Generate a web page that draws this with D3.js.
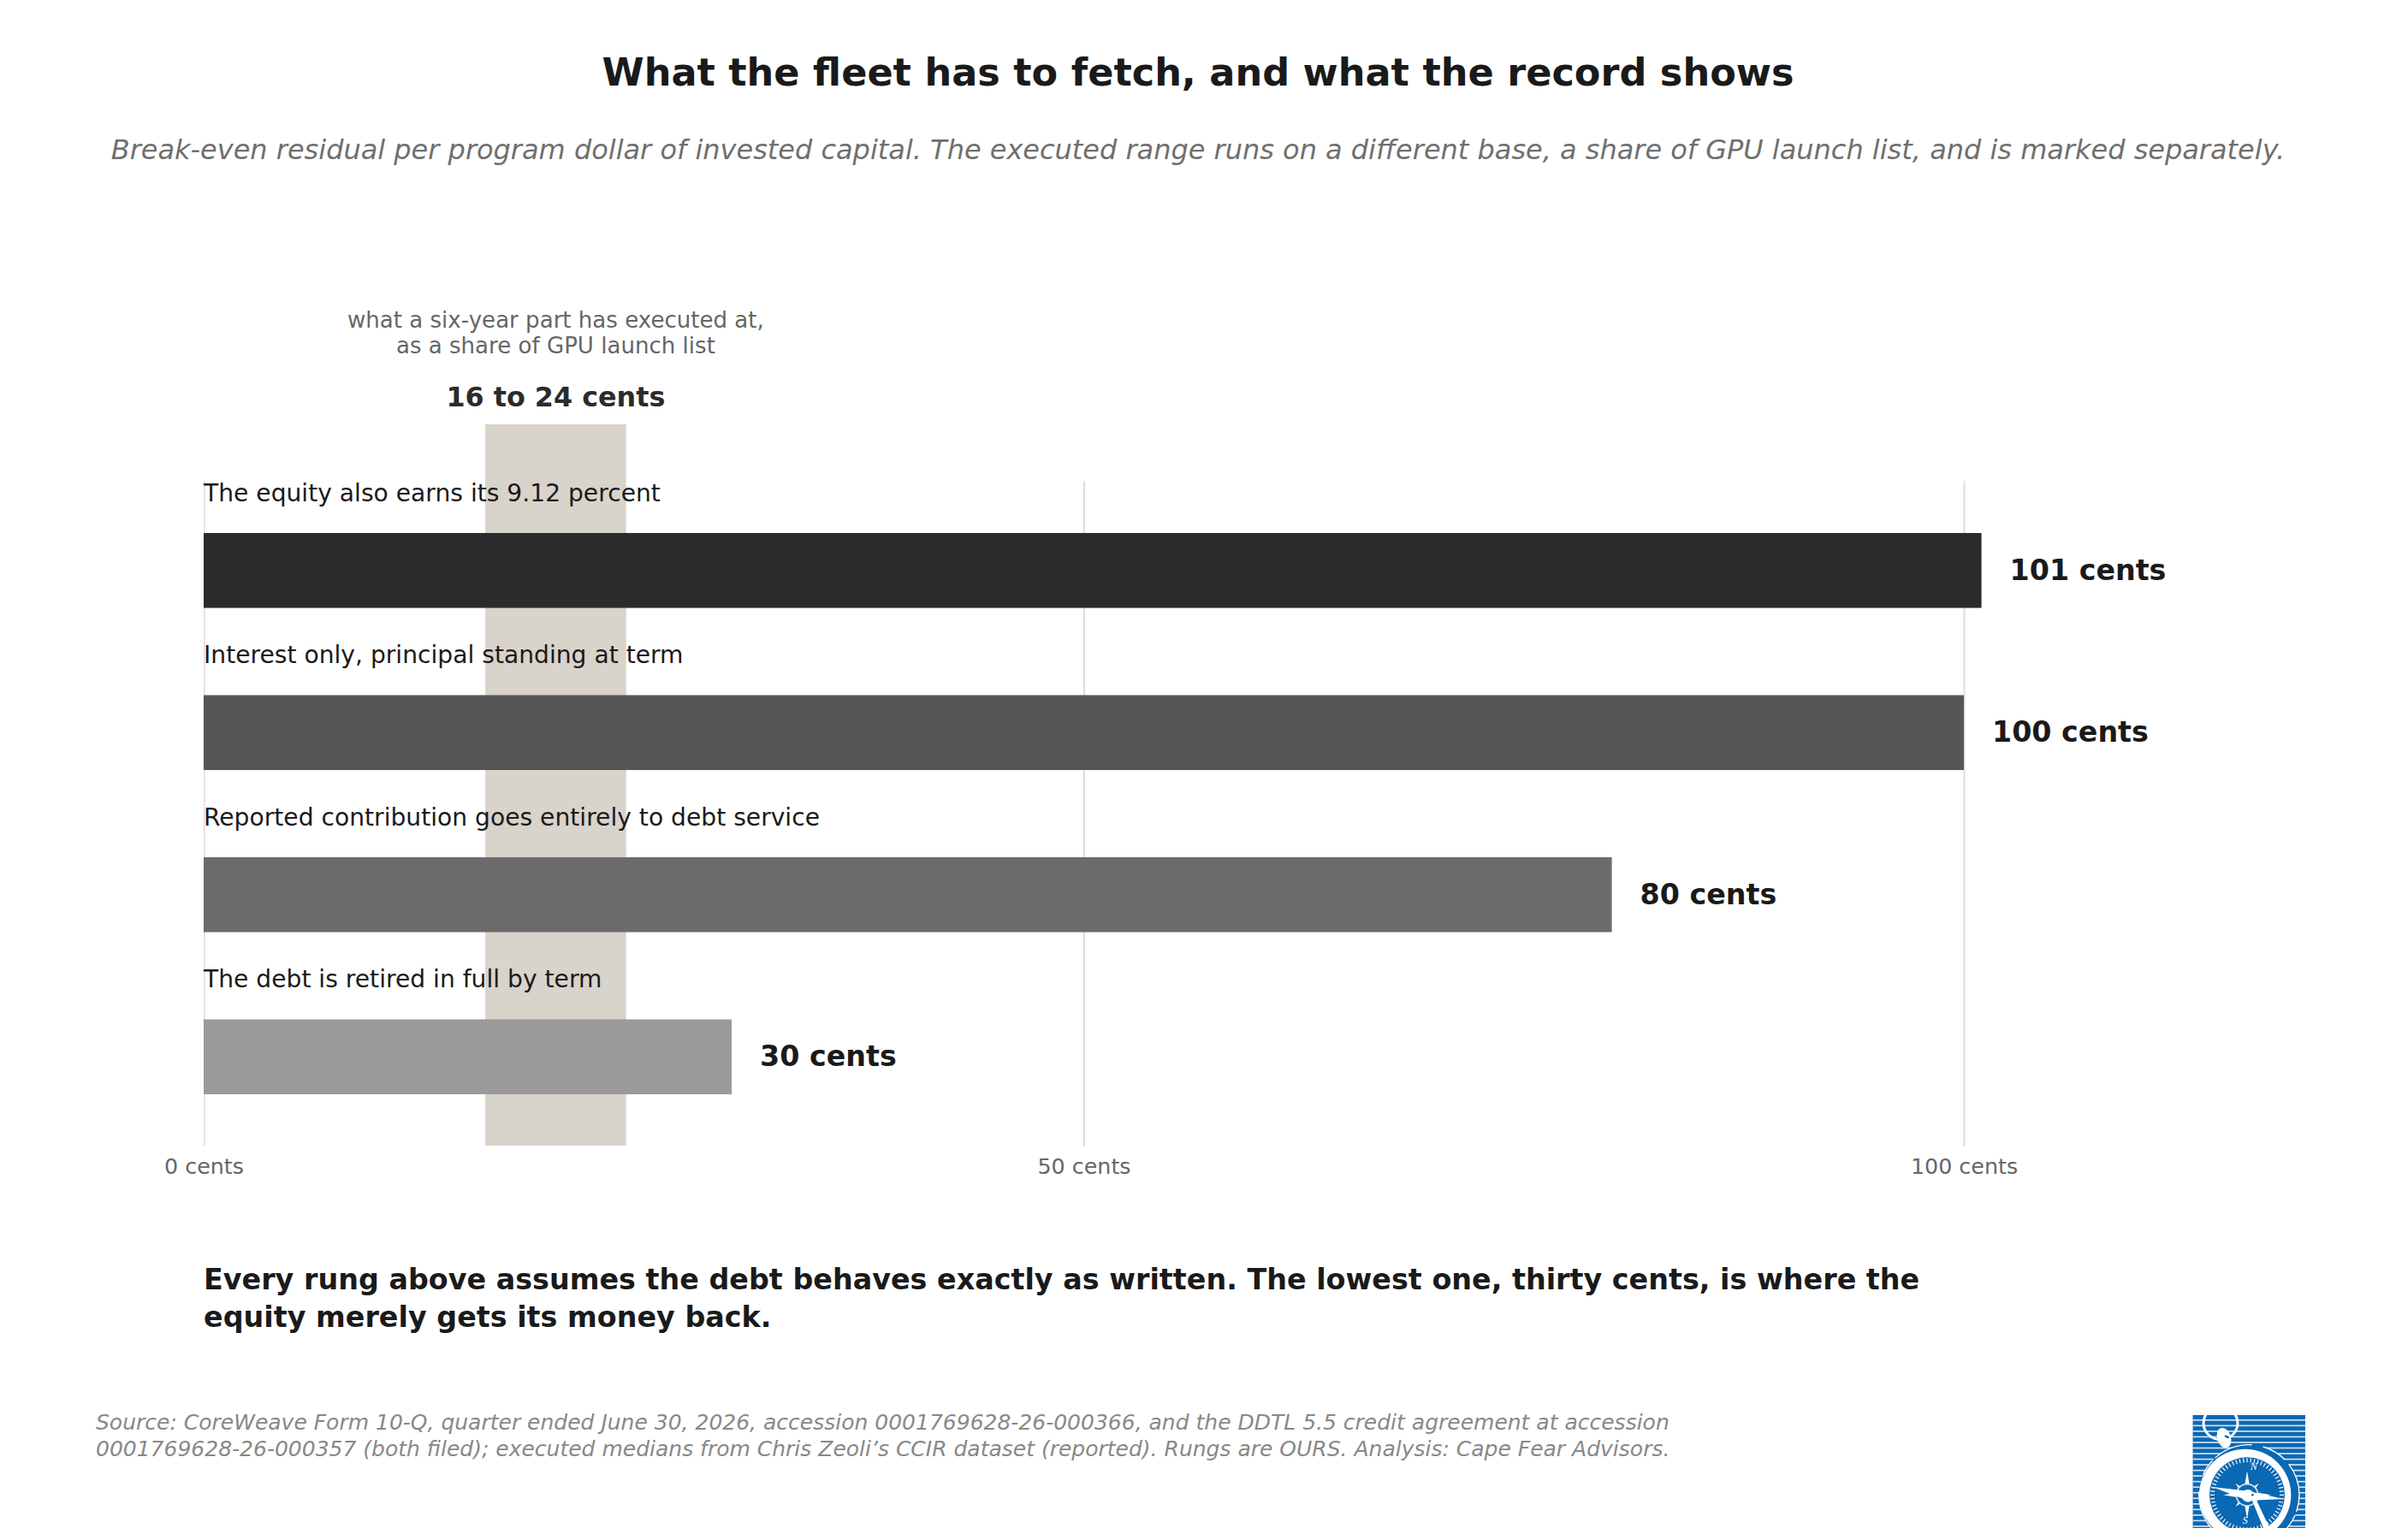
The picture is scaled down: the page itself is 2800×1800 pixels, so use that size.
<!DOCTYPE html>
<html>
<head>
<meta charset="utf-8">
<script src="https://cdn.jsdelivr.net/npm/d3@7"></script>
<style>
  body { margin: 0; background: #fff; }
  svg { opacity: 0.999; }
  text { font-family: "DejaVu Sans", sans-serif; }
</style>
</head>
<body>
<svg id="chart" width="2800" height="1800"></svg>
<script>
const rungs = [
  'The equity also earns its 9.12 percent',
  'Interest only, principal standing at term',
  'Reported contribution goes entirely to debt service',
  'The debt is retired in full by term',
];
const cents = [101, 100, 80, 30];
const barColors = ['#2b2b2b', '#555555', '#6b6b6b', '#9a9a9a'];
const executedRange = [16, 24];
const tickValues = [0, 50, 100];

const title = 'What the fleet has to fetch, and what the record shows';
const subtitle = 'Break-even residual per program dollar of invested capital. The executed range runs on a different base, a share of GPU launch list, and is marked separately.';
const rangeNote = ['what a six-year part has executed at,', 'as a share of GPU launch list'];
const rangeLabel = '16 to 24 cents';
const takeaway = [
  'Every rung above assumes the debt behaves exactly as written. The lowest one, thirty cents, is where the',
  'equity merely gets its money back.',
];
const source = [
  'Source: CoreWeave Form 10-Q, quarter ended June 30, 2026, accession 0001769628-26-000366, and the DDTL 5.5 credit agreement at accession',
  '0001769628-26-000357 (both filed); executed medians from Chris Zeoli\u2019s CCIR dataset (reported). Rungs are OURS. Analysis: Cape Fear Advisors.',
];

const svg = d3.select('#chart');
const xScale = d3.scaleLinear().domain([0, 100]).range([238, 2295]);
const yScale = d3.scaleBand().domain(rungs).range([623, 1279]).paddingInner(0.538);
const plotTop = 562;
const plotBottom = 1340;

const addText = (parent, str, x, y, size, color, opts = {}) =>
  parent
    .append('text')
    .attr('x', x)
    .attr('y', y)
    .attr('text-anchor', opts.anchor || 'start')
    .attr('fill', color)
    .style('font-size', `${size}px`)
    .style('font-weight', opts.weight || 'normal')
    .style('font-style', opts.style || 'normal')
    .text(str);

addText(svg, title, 1400, 100, 44.58, '#1a1a1a', { anchor: 'middle', weight: 'bold' });
addText(svg, subtitle, 1400, 186, 31.97, '#6f6f6f', { anchor: 'middle', style: 'italic' });

// grid, clipped on the left so the zero line comes out thin like the axes edge
svg.append('clipPath').attr('id', 'plotClip')
  .append('rect').attr('x', 238).attr('y', plotTop).attr('width', 2200).attr('height', plotBottom - plotTop);

svg.append('g')
  .attr('clip-path', 'url(#plotClip)')
  .append('g')
  .attr('transform', `translate(0, ${plotBottom})`)
  .call(d3.axisBottom(xScale).tickValues(tickValues).tickSize(-(plotBottom - plotTop)).tickFormat(''))
  .call((g) => g.select('.domain').remove())
  .call((g) => g.selectAll('line').attr('stroke', '#dddddd').attr('stroke-width', 2));

// executed range band
svg.append('rect')
  .attr('x', xScale(executedRange[0]))
  .attr('y', 496)
  .attr('width', xScale(executedRange[1]) - xScale(executedRange[0]))
  .attr('height', plotBottom - 1 - 496)
  .attr('fill', '#d8d3cb');

const bandMid = xScale((executedRange[0] + executedRange[1]) / 2);
rangeNote.forEach((line, i) => addText(svg, line, bandMid, 383 + i * 30, 26.07, '#666666', { anchor: 'middle' }));
addText(svg, rangeLabel, bandMid, 475, 31.8, '#2b2b2b', { anchor: 'middle', weight: 'bold' });

// bars
svg.append('g')
  .selectAll('rect')
  .data(rungs)
  .join('rect')
  .attr('x', xScale(0))
  .attr('y', (d) => yScale(d))
  .attr('width', (d, i) => xScale(cents[i]) - xScale(0))
  .attr('height', yScale.bandwidth())
  .attr('fill', (d, i) => barColors[i]);

svg.append('g')
  .selectAll('text')
  .data(rungs)
  .join('text')
  .attr('x', xScale(0))
  .attr('y', (d) => yScale(d) - 37)
  .attr('fill', '#1a1a1a')
  .style('font-size', '28.16px')
  .text((d) => d);

svg.append('g')
  .selectAll('text')
  .data(rungs)
  .join('text')
  .attr('x', (d, i) => xScale(cents[i]) + 33)
  .attr('y', (d) => yScale(d) + 55)
  .attr('fill', '#1a1a1a')
  .style('font-size', '33.3px')
  .style('font-weight', 'bold')
  .text((d, i) => `${cents[i]} cents`);

// tick labels
svg.append('g')
  .attr('transform', `translate(0, ${plotBottom})`)
  .call(d3.axisBottom(xScale).tickValues(tickValues).tickSize(0).tickPadding(14).tickFormat((d) => `${d} cents`))
  .call((g) => g.select('.domain').remove())
  .call((g) => g.selectAll('text')
    .attr('fill', '#666666')
    .attr('dy', 0)
    .attr('y', 32)
    .style('font-size', '25.37px')
    .style('font-family', '"DejaVu Sans"'));

takeaway.forEach((line, i) => addText(svg, line, 238, 1507 + i * 44, 33.36, '#1a1a1a', { weight: 'bold' }));
source.forEach((line, i) => addText(svg, line, 112, 1671 + i * 31, 25, '#888888', { style: 'italic' }));

// compass logo, bottom right corner
const logoBlue = '#0a68b4';
svg.append('clipPath').attr('id', 'logoClip')
  .append('rect').attr('x', 22).attr('y', 12).attr('width', 395).attr('height', 396);
const logo = svg.append('g')
  .attr('transform', 'translate(2555, 1650) scale(0.3333)')
  .append('g')
  .attr('clip-path', 'url(#logoClip)');

logo.append('rect').attr('x', 22).attr('y', 12).attr('width', 395).attr('height', 396).attr('fill', logoBlue);
logo.selectAll('.stripe')
  .data(d3.range(27, 408, 19.6))
  .join('rect')
  .attr('class', 'stripe')
  .attr('x', 22)
  .attr('y', (d) => d)
  .attr('width', 395)
  .attr('height', 5)
  .attr('fill', '#d5e3f1');

// loop and crown
logo.append('ellipse').attr('cx', 120).attr('cy', 40).attr('rx', 60).attr('ry', 58)
  .attr('fill', 'none').attr('stroke', '#fff').attr('stroke-width', 9);
logo.append('ellipse').attr('cx', 132).attr('cy', 92).attr('rx', 24).attr('ry', 36)
  .attr('transform', 'rotate(-18 132 92)').attr('fill', '#fff');
logo.append('ellipse').attr('cx', 142).attr('cy', 88).attr('rx', 9).attr('ry', 4)
  .attr('transform', 'rotate(25 142 88)').attr('fill', logoBlue);

// case
logo.append('circle').attr('cx', 220).attr('cy', 292).attr('r', 176).attr('fill', logoBlue);
logo.append('circle').attr('cx', 220).attr('cy', 292).attr('r', 176)
  .attr('fill', 'none').attr('stroke', '#fff').attr('stroke-width', 4).attr('stroke-dasharray', '60 14 140 40 90 20 200 60');
logo.append('circle').attr('cx', 206).attr('cy', 292).attr('r', 161).attr('fill', '#fff');
logo.append('circle').attr('cx', 213).attr('cy', 292).attr('r', 132).attr('fill', logoBlue);

// dial ticks
logo.append('g')
  .selectAll('line')
  .data(d3.range(0, 360, 6))
  .join('line')
  .attr('x1', 213).attr('x2', 213)
  .attr('y1', 292 - 129).attr('y2', 292 - 114)
  .attr('transform', (d) => `rotate(${d} 213 292)`)
  .attr('stroke', '#fff')
  .attr('stroke-width', 3.5);

// compass rose
const rose = logo.append('g');
d3.range(0, 360, 90).forEach((a) => {
  rose.append('path').attr('d', 'M213 208 L224 272 L202 272 Z')
    .attr('transform', `rotate(${a} 213 292)`).attr('fill', '#fff');
});
d3.range(45, 360, 90).forEach((a) => {
  rose.append('path').attr('d', 'M213 234 L222 274 L204 274 Z')
    .attr('transform', `rotate(${a} 213 292)`).attr('fill', '#fff');
});
logo.append('circle').attr('cx', 213).attr('cy', 292).attr('r', 38).attr('fill', logoBlue);
logo.append('circle').attr('cx', 213).attr('cy', 292).attr('r', 38)
  .attr('fill', 'none').attr('stroke', '#d5e3f1').attr('stroke-width', 5);

// needles
logo.append('path').attr('d', 'M92 264 L215 278 L340 306 L215 312 Z').attr('fill', '#fff');
logo.append('circle').attr('cx', 216).attr('cy', 295).attr('r', 22).attr('fill', '#fff');
logo.append('circle').attr('cx', 232).attr('cy', 292).attr('r', 4).attr('fill', logoBlue);
logo.append('path').attr('d', 'M226 300 L240 298 L292 408 L270 408 Z').attr('fill', '#fff');

[['N', 236, 205], ['S', 206, 392]].forEach(([letter, x, y]) => {
  logo.append('text').attr('x', x).attr('y', y).attr('text-anchor', 'middle').attr('fill', '#fff')
    .style('font-family', '"Liberation Serif"').style('font-style', 'italic').style('font-size', '36px').text(letter);
});
</script>
</body>
</html>
